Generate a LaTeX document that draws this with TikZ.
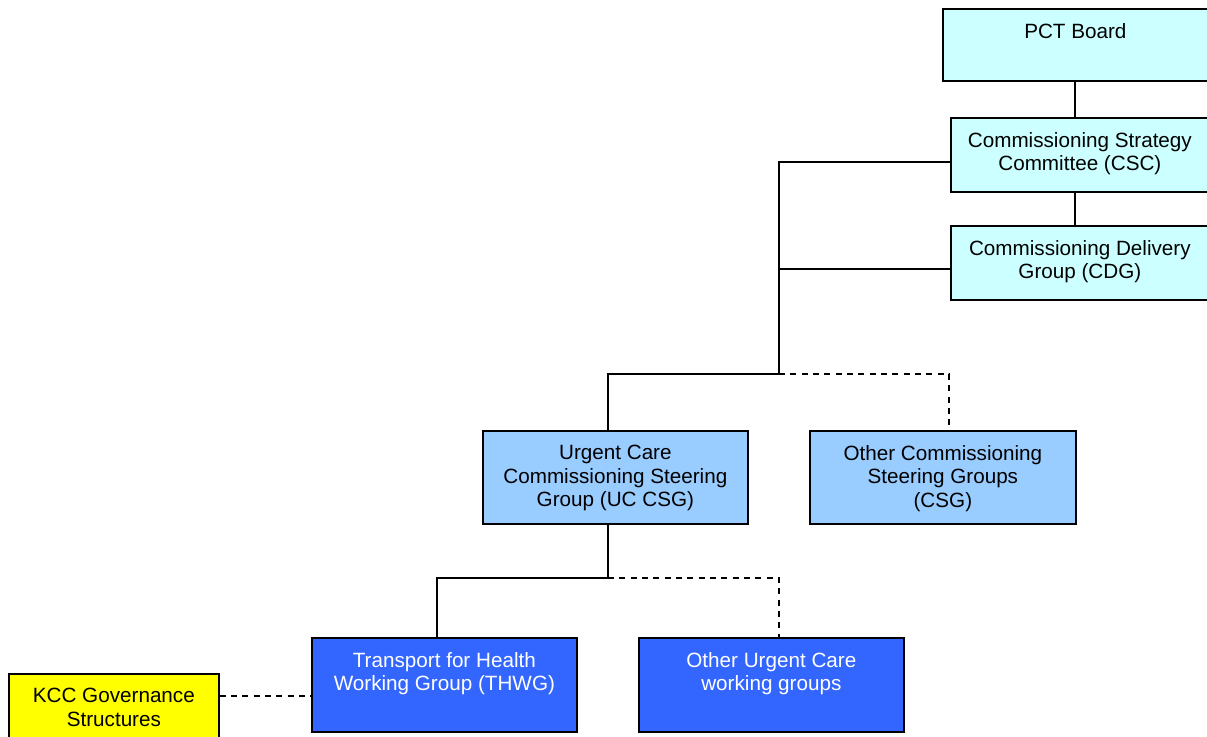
\documentclass[tikz,border=0pt]{standalone}
\usepackage{fontspec}
\setmainfont{Liberation Sans}
\begin{document}
\begin{tikzpicture}[x=0.75pt,y=-0.75pt,
  box/.style 2 args={draw=black, line width=1.3pt, minimum width=#1*0.75pt, minimum height=#2*0.75pt, anchor=north west, inner sep=0pt},
  lbl/.style={anchor=north, inner sep=0pt, align=center, font=\fontsize{15.5}{17.6}\selectfont, yshift=-11.3pt},
  ln/.style={line width=1.3pt},
  dsh/.style={line width=1.3pt, dash pattern=on 4.5pt off 4pt}]
\definecolor{topc}{HTML}{CCFFFF}
\definecolor{midc}{HTML}{99CCFF}
\definecolor{lowc}{HTML}{3366FF}
\definecolor{kccc}{HTML}{FFFF00}
\useasboundingbox (0,0) rectangle (1207,736);
% boxes
\node[box={265}{72}, fill=topc] (pct) at (942,8) {};
\node[box={258}{74}, fill=topc] (csc) at (950,117) {};
\node[box={258}{74}, fill=topc] (cdg) at (950,225) {};
\node[box={265}{93}, fill=midc] (ucsg) at (482,430) {};
\node[box={266}{93}, fill=midc] (ocsg) at (809,430) {};
\node[box={265}{94}, fill=lowc] (thwg) at (311,637) {};
\node[box={265}{94}, fill=lowc] (ouc) at (638,637) {};
\node[box={210}{75}, fill=kccc] (kcc) at (8,673) {};
% labels
\node[lbl] (pctl) at (pct.north) {PCT Board};
\node[lbl] (cscl) at (csc.north) {Commissioning Strategy\\Committee (CSC)};
\node[lbl] (cdgl) at (cdg.north) {Commissioning Delivery\\Group (CDG)};
\node[lbl] (ucsgl) at (ucsg.north) {Urgent Care\\Commissioning Steering\\Group (UC CSG)};
\node[lbl] (ocsgl) at (ocsg.north) {Other Commissioning\\Steering Groups\\(CSG)};
\node[lbl, text=white] (thwgl) at (thwg.north) {Transport for Health\\Working Group (THWG)};
\node[lbl, text=white] (oucl) at (ouc.north) {Other Urgent Care\\working groups};
\node[lbl] (kccl) at (kcc.north) {KCC Governance\\Structures};
% junction coordinates
\coordinate (v) at (1075,100);
\coordinate (t1) at (779,162);
\coordinate (t2) at (779,269);
\coordinate (j1) at (779,374);
\coordinate (j1l) at (608,374);
\coordinate (j1r) at (949,374);
\coordinate (j2) at (608,578);
\coordinate (j2l) at (437,578);
\coordinate (j2r) at (779,578);
\coordinate (k) at (260,696);
% connectors
\draw[ln] (v |- pct.south) -- (v |- csc.north);
\draw[ln] (v |- csc.south) -- (v |- cdg.north);
\draw[ln] (t1 -| csc.west) -- (t1) -- (j1);
\draw[ln] (t2 -| cdg.west) -- (t2);
\draw[ln] (j1) -- (j1l) -- (j1l |- ucsg.north);
\draw[dsh] (j1) -- (j1r) -- (j1r |- ocsg.north);
\draw[ln] (j1l |- ucsg.south) -- (j2) -- (j2l) -- (j2l |- thwg.north);
\draw[dsh] (j2) -- (j2r) -- (j2r |- ouc.north);
\draw[dsh] (k -| kcc.east) -- (k -| thwg.west);
\end{tikzpicture}
\end{document}
